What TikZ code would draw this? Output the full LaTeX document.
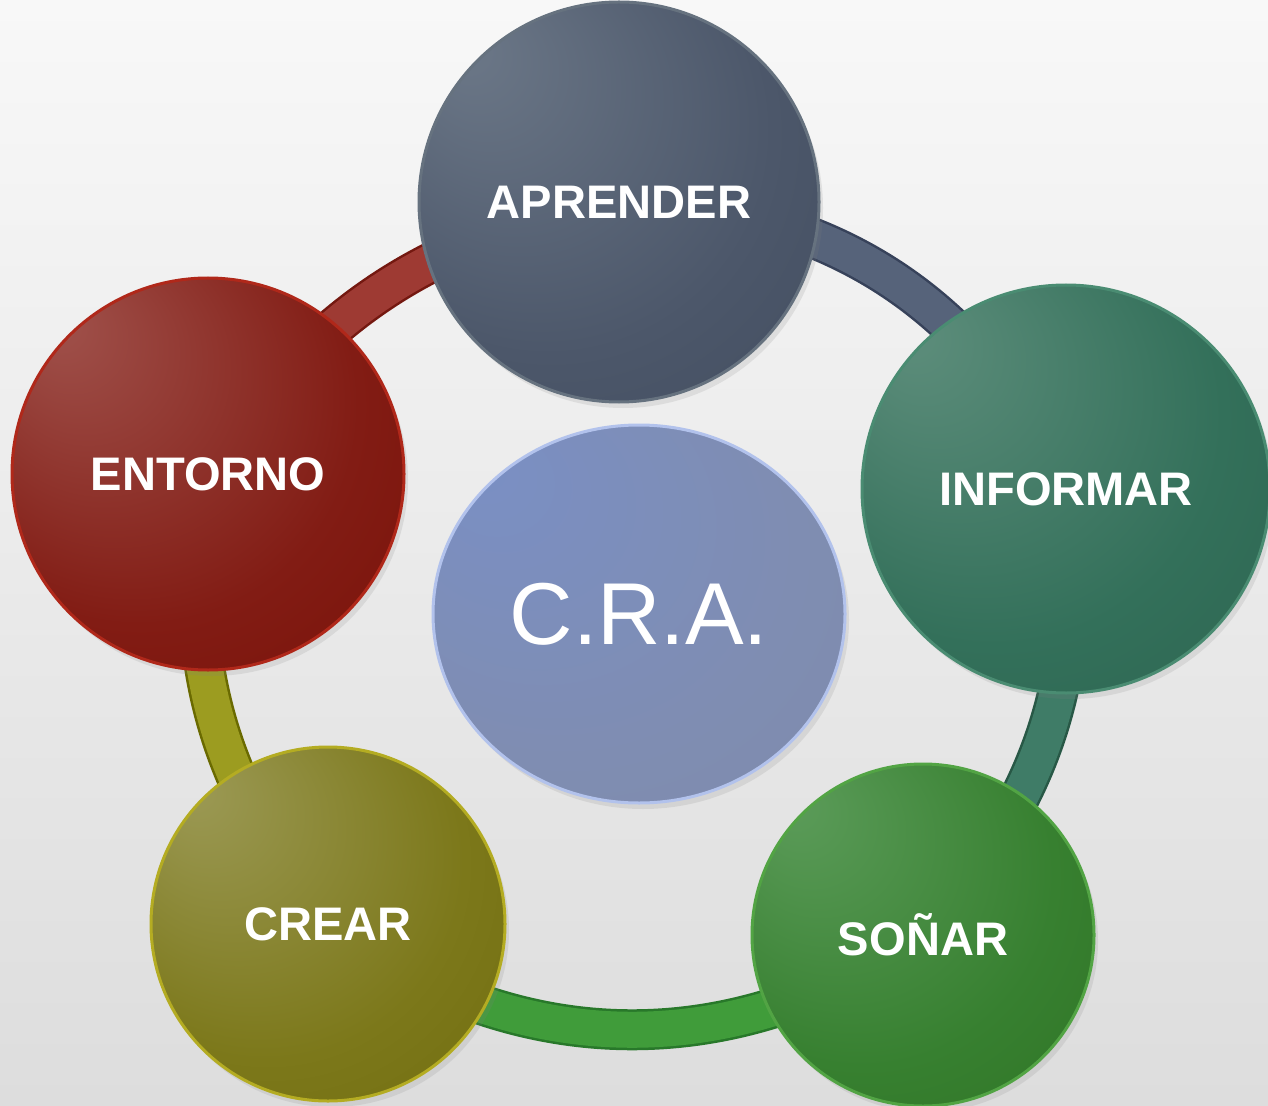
\documentclass[tikz,border=0pt]{standalone}
\usepackage{fontspec}
\setmainfont{Liberation Sans}
\usetikzlibrary{shapes.geometric,shadows}

\definecolor{paperT}{HTML}{F8F8F8}
\definecolor{paperB}{HTML}{DDDDDD}
% circle tints: light, mid, dark, edge
\definecolor{aprL}{HTML}{6C7888}
\definecolor{aprM}{HTML}{4C576A}
\definecolor{aprD}{HTML}{3E495B}
\definecolor{aprE}{HTML}{66727F}
\definecolor{infL}{HTML}{5E8E7C}
\definecolor{infM}{HTML}{33705A}
\definecolor{infD}{HTML}{2A5F4C}
\definecolor{infE}{HTML}{4A8C72}
\definecolor{entL}{HTML}{A0524C}
\definecolor{entM}{HTML}{821C14}
\definecolor{entD}{HTML}{760C02}
\definecolor{entE}{HTML}{B0281A}
\definecolor{creL}{HTML}{9C9A56}
\definecolor{creM}{HTML}{7C781A}
\definecolor{creD}{HTML}{6C680A}
\definecolor{creE}{HTML}{B4AC22}
\definecolor{sonL}{HTML}{5C9C5A}
\definecolor{sonM}{HTML}{378030}
\definecolor{sonD}{HTML}{2C6E20}
\definecolor{sonE}{HTML}{52A444}
\definecolor{craL}{HTML}{7A8FC4}
\definecolor{craM}{HTML}{7F8DB2}
\definecolor{craD}{HTML}{7E8AA8}
\definecolor{craE}{HTML}{B2C2EC}
% ring bands: body, rim
\definecolor{redB}{HTML}{9E3A33}
\definecolor{redR}{HTML}{741810}
\definecolor{slateB}{HTML}{56637A}
\definecolor{slateR}{HTML}{37425A}
\definecolor{tealB}{HTML}{3F7C67}
\definecolor{tealR}{HTML}{285846}
\definecolor{greenB}{HTML}{409C3A}
\definecolor{greenR}{HTML}{28782A}
\definecolor{oliveB}{HTML}{9C9C20}
\definecolor{oliveR}{HTML}{6A6A00}

\pgfdeclareradialshading[glowL,glowM,glowD]{glow}{\pgfpoint{-20bp}{20bp}}{%
  color(0bp)=(glowL); color(28bp)=(glowM); color(50bp)=(glowD)}

\pgfdeclarelayer{paper}
\pgfdeclarelayer{ring}
\pgfsetlayers{paper,ring,main}

\tikzset{tint/.style n args={3}{
    /utils/exec={\colorlet{glowL}{#1}\colorlet{glowM}{#2}\colorlet{glowD}{#3}},
    shading=glow}}
\tikzset{bubble/.style={
    circle,
    text=white,
    font=\bfseries\fontsize{13.4pt}{16pt}\selectfont,
    line width=0.03cm,
    drop shadow={shadow xshift=0.04cm, shadow yshift=-0.06cm, opacity=0.16}}}
\tikzset{band/.style={
    line width=0.025cm,
    double distance=0.36cm}}

\begin{document}
\begin{tikzpicture}
  \useasboundingbox (0,0) rectangle (12.68,11.05);
  \coordinate (APR) at (6.19,9.03);
\coordinate (INF) at (10.66,6.16);
\coordinate (SON) at (9.23,1.70);
\coordinate (CRE) at (3.28,1.81);
\coordinate (ENT) at (2.08,6.31);
\coordinate (CRA) at (6.39,4.91);

\begin{pgfonlayer}{paper}
  \shade[top color=paperT, bottom color=paperB] (0,0) rectangle (12.68,11.05);
\end{pgfonlayer}

\node[bubble,
  minimum size=4cm,
  tint={aprL}{aprM}{aprD},
  draw=aprE] (aprender) at (APR) {APRENDER};

\node[bubble,
  minimum size=4.08cm,
  tint={infL}{infM}{infD},
  draw=infE] (informar) at (INF) {INFORMAR};

\node[bubble,
  minimum size=3.42cm,
  tint={sonL}{sonM}{sonD},
  draw=sonE] (sonar) at (SON) {SOÑAR};

\node[bubble,
  minimum size=3.54cm,
  tint={creL}{creM}{creD},
  draw=creE] (crear) at (CRE) {CREAR};

\node[bubble,
  minimum size=3.92cm,
  tint={entL}{entM}{entD},
  draw=entE] (entorno) at (ENT) {ENTORNO};

\node[bubble,
  ellipse,
  minimum width=4.12cm,
  minimum height=3.78cm,
  font=\fontsize{25pt}{30pt}\selectfont,
  tint={craL}{craM}{craD},
  draw=craE] (cra) at (CRA) {C.R.A.};

\begin{pgfonlayer}{ring}
  \draw[band, draw=redR, double=redB] (entorno.center) to[bend left=23] (aprender.center);
  \draw[band, draw=slateR, double=slateB] (aprender.center) to[bend left=32] (informar.center);
  \draw[band, draw=tealR, double=tealB] (informar.center) to[bend left=24] (sonar.center);
  \draw[band, draw=greenR, double=greenB] (sonar.center) to[bend left=35] (crear.center);
  \draw[band, draw=oliveR, double=oliveB] (crear.center) to[bend left=24] (entorno.center);
\end{pgfonlayer}
\end{tikzpicture}
\end{document}
